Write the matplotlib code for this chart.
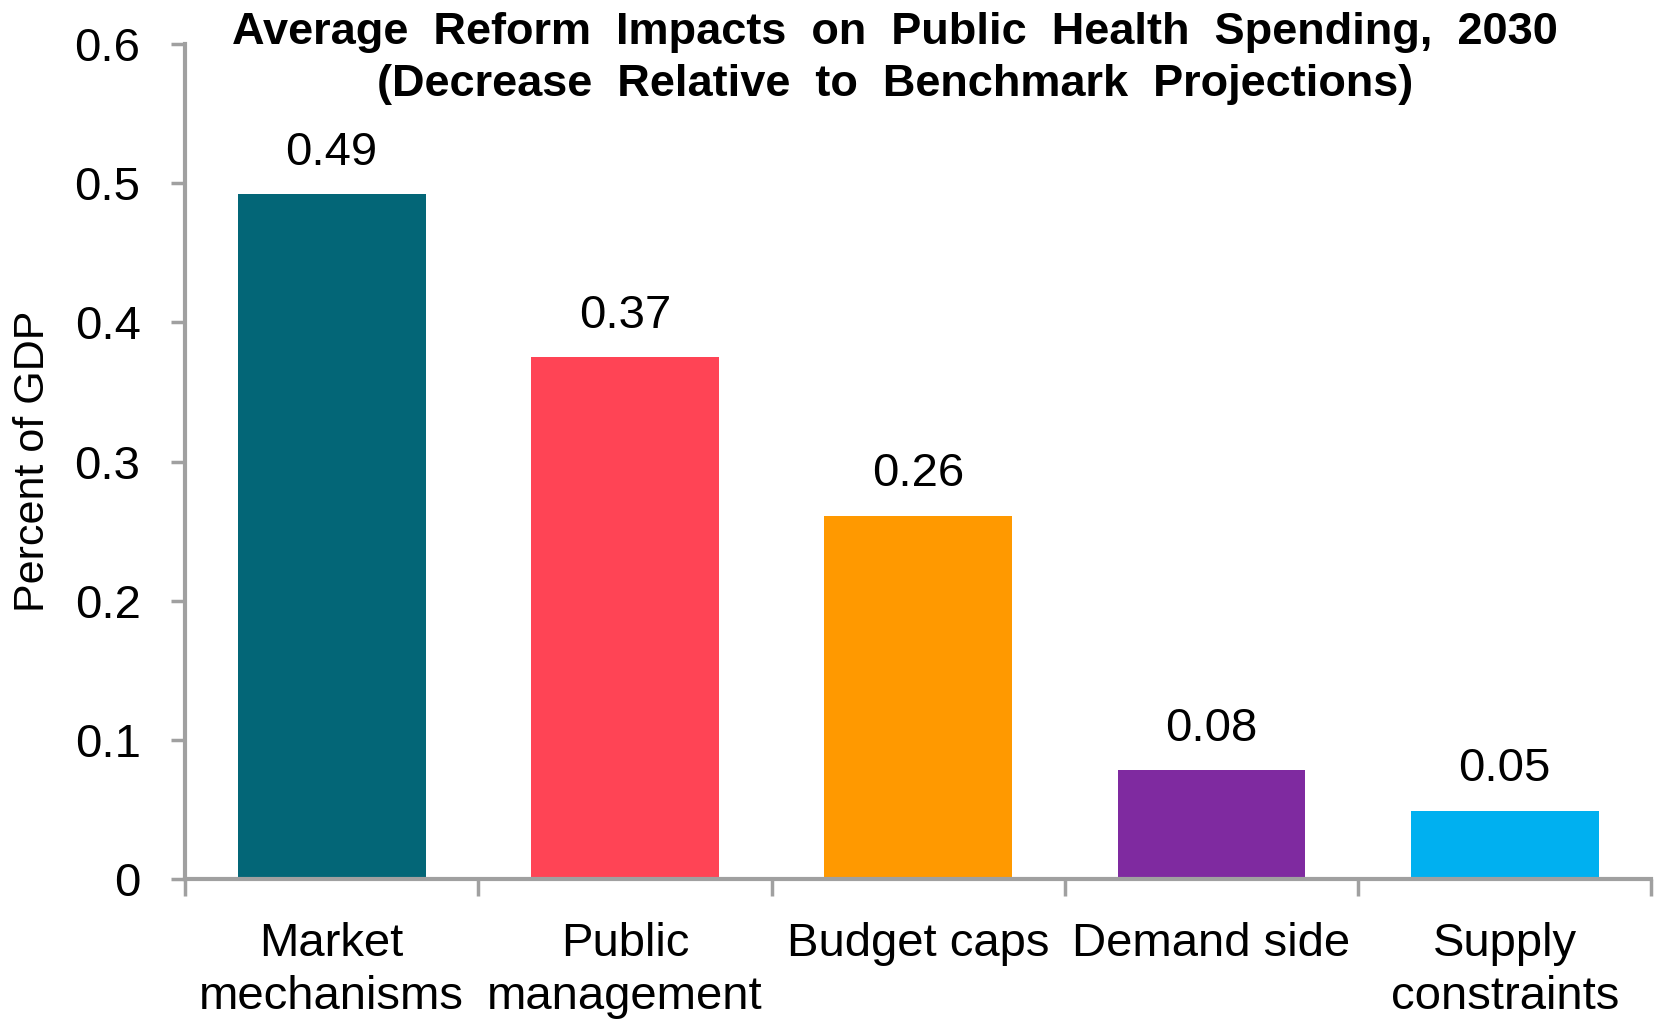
import matplotlib.pyplot as plt
import numpy as np

plt.rcParams['font.family'] = ['Liberation Sans', 'DejaVu Sans']

categories = ["Market\nmechanisms", "Public\nmanagement", "Budget caps", "Demand side", "Supply\nconstraints"]
values = [0.492, 0.375, 0.261, 0.078, 0.049]
value_labels = ["0.49", "0.37", "0.26", "0.08", "0.05"]
colors = ["#036677", "#FF4455", "#FF9900", "#7F2AA0", "#00B0F0"]
yticks = [0, 0.1, 0.2, 0.3, 0.4, 0.5, 0.6]
ytick_labels = ["0", "0.1", "0.2", "0.3", "0.4", "0.5", "0.6"]

grey = "#A0A0A0"

fig = plt.figure(figsize=(16.55, 10.24), dpi=100)
ax = fig.add_axes([0.1118, 0.1416, 0.886, 0.8154])

x = np.arange(len(categories))
ax.bar(x, values, width=0.64, color=colors, zorder=1)

for xi, v, lab in zip(x, values, value_labels):
    ax.annotate(lab, (xi, v), xytext=(0, 14), textcoords="offset points",
                ha="center", va="bottom", fontsize=34)

ax.set_xlim(-0.5, len(categories) - 0.5)
ax.set_ylim(0, 0.6)
ax.set_yticks(yticks)
ax.set_yticklabels(ytick_labels, fontsize=34)

# category labels centered, ticks at category boundaries
ax.set_xticks(x)
ax.set_xticklabels(categories, fontsize=34, linespacing=1.27)
ax.tick_params(axis="x", which="major", length=0, pad=31)
ax.set_xticks(np.arange(-0.5, len(categories)), minor=True)
ax.tick_params(axis="x", which="minor", length=12, width=2.5, color=grey, direction="out")
ax.tick_params(axis="y", length=10, width=2.5, color=grey, direction="out", pad=22)

for side in ["top", "right"]:
    ax.spines[side].set_visible(False)
for side in ["left", "bottom"]:
    ax.spines[side].set_color(grey)
    ax.spines[side].set_linewidth(3)
    ax.spines[side].set_zorder(3)

ax.set_ylabel("Percent of GDP", fontsize=31)
ax.yaxis.set_label_coords(-0.09, 0.5)

fig.text(0.541, 0.943, "Average  Reform  Impacts  on  Public  Health  Spending,  2030\n(Decrease  Relative  to  Benchmark  Projections)",
         ha="center", va="center", fontsize=32.5, fontweight="bold", linespacing=1.36)

fig.savefig("out.png", dpi=100)
